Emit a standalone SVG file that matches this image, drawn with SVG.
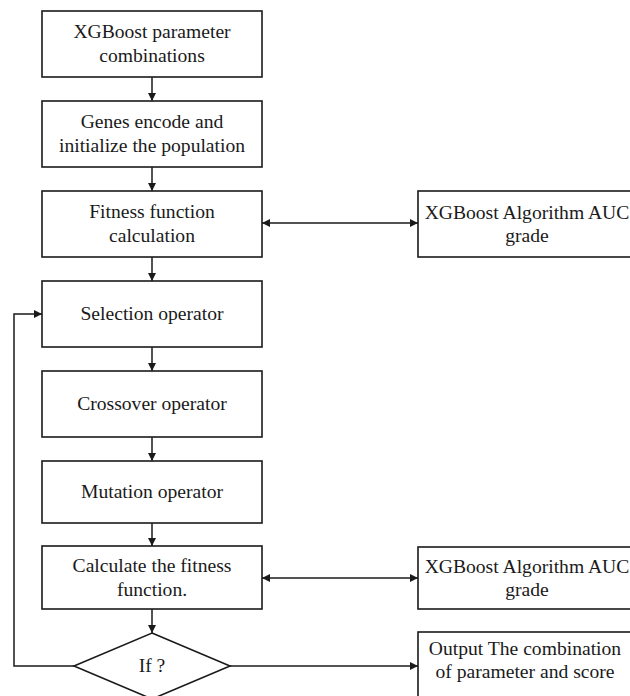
<svg xmlns="http://www.w3.org/2000/svg" width="630" height="696" viewBox="0 0 630 696">
  <style>
    .box { fill: #ffffff; stroke: #1a1a1a; stroke-width: 1.6; }
    .lbl { font-family: "Liberation Serif", "Times New Roman", serif; font-size: 19.6px; fill: #1a1a1a; text-anchor: middle; }
    .edge { fill: none; stroke: #1a1a1a; stroke-width: 1.5; }
  </style>
  <defs>
    <marker id="arrow" viewBox="0 0 10 10" refX="10" refY="5" markerWidth="8" markerHeight="8" markerUnits="userSpaceOnUse" orient="auto-start-reverse">
      <path d="M0,0 L10,5 L0,10 Z" fill="#1a1a1a"/>
    </marker>
  </defs>
  <rect width="630" height="696" fill="#ffffff"/>

  <!-- main column -->
  <g id="n-params">
    <rect class="box" x="42" y="11" width="220" height="66"/>
    <text class="lbl" x="152" y="38">XGBoost parameter</text>
    <text class="lbl" x="152" y="62">combinations</text>
  </g>
  <g id="n-encode">
    <rect class="box" x="42" y="101" width="220" height="66"/>
    <text class="lbl" x="152" y="128">Genes encode and</text>
    <text class="lbl" x="152" y="152">initialize the population</text>
  </g>
  <g id="n-fitness">
    <rect class="box" x="42" y="191" width="220" height="66"/>
    <text class="lbl" x="152" y="218">Fitness function</text>
    <text class="lbl" x="152" y="242">calculation</text>
  </g>
  <g id="n-selection">
    <rect class="box" x="42" y="281" width="220" height="66"/>
    <text class="lbl" x="152" y="320">Selection operator</text>
  </g>
  <g id="n-crossover">
    <rect class="box" x="42" y="371" width="220" height="66"/>
    <text class="lbl" x="152" y="410">Crossover operator</text>
  </g>
  <g id="n-mutation">
    <rect class="box" x="42" y="461" width="220" height="62"/>
    <text class="lbl" x="152" y="498">Mutation operator</text>
  </g>
  <g id="n-calc">
    <rect class="box" x="42" y="546" width="220" height="63"/>
    <text class="lbl" x="152" y="572">Calculate the fitness</text>
    <text class="lbl" x="152" y="596">function.</text>
  </g>
  <g id="n-if">
    <polygon class="box" points="152,633 230,666 152,699 74,666"/>
    <text class="lbl" x="152" y="672">If ?</text>
  </g>

  <!-- right column -->
  <g id="n-auc1">
    <rect class="box" x="418" y="191" width="220" height="66"/>
    <text class="lbl" x="527" y="219">XGBoost Algorithm AUC</text>
    <text class="lbl" x="527" y="242">grade</text>
  </g>
  <g id="n-auc2">
    <rect class="box" x="418" y="547" width="220" height="62"/>
    <text class="lbl" x="527" y="573">XGBoost Algorithm AUC</text>
    <text class="lbl" x="527" y="596">grade</text>
  </g>
  <g id="n-output">
    <rect class="box" x="418" y="632" width="220" height="70"/>
    <text class="lbl" x="525" y="655">Output The combination</text>
    <text class="lbl" x="525" y="678">of parameter and score</text>
  </g>

  <!-- connectors -->
  <g id="connectors">
    <line class="edge" x1="152" y1="77" x2="152" y2="101" marker-end="url(#arrow)"/>
    <line class="edge" x1="152" y1="167" x2="152" y2="191" marker-end="url(#arrow)"/>
    <line class="edge" x1="152" y1="257" x2="152" y2="281" marker-end="url(#arrow)"/>
    <line class="edge" x1="152" y1="347" x2="152" y2="371" marker-end="url(#arrow)"/>
    <line class="edge" x1="152" y1="437" x2="152" y2="461" marker-end="url(#arrow)"/>
    <line class="edge" x1="152" y1="523" x2="152" y2="546" marker-end="url(#arrow)"/>
    <line class="edge" x1="152" y1="609" x2="152" y2="633" marker-end="url(#arrow)"/>
    <line class="edge" x1="262" y1="223" x2="418" y2="223" marker-start="url(#arrow)" marker-end="url(#arrow)"/>
    <line class="edge" x1="262" y1="578" x2="418" y2="578" marker-start="url(#arrow)" marker-end="url(#arrow)"/>
    <line class="edge" x1="230" y1="666" x2="418" y2="666" marker-end="url(#arrow)"/>
    <polyline class="edge" points="74,666 14,666 14,314 42,314" marker-end="url(#arrow)"/>
  </g>
</svg>
